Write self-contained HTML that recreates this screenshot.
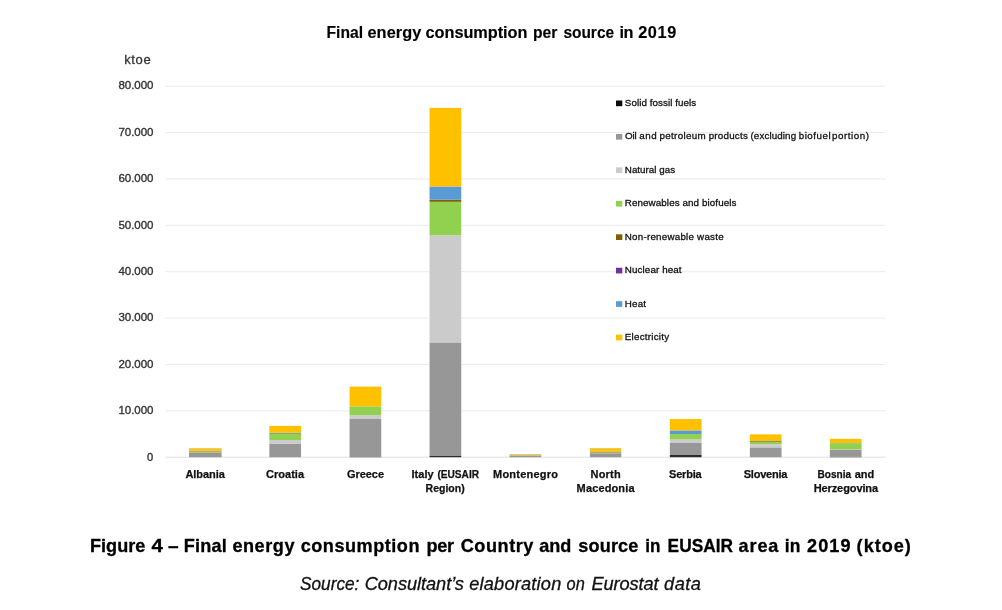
<!DOCTYPE html>
<html lang="en">
<head>
<meta charset="utf-8">
<title>Final energy consumption per source in 2019</title>
<style>
html,body{margin:0;padding:0;background:#fff;}
body{width:1002px;height:610px;overflow:hidden;font-family:"Liberation Sans", sans-serif;}
svg{display:block;font-family:"Liberation Sans", sans-serif;will-change:transform;}
</style>
</head>
<body>
<svg width="1002" height="610" viewBox="0 0 1002 610" role="img" aria-label="Stacked bar chart: final energy consumption per source in 2019 (ktoe)">
<rect x="0" y="0" width="1002" height="610" fill="#ffffff"/>
<g id="gridlines" stroke="#eaeaea" stroke-width="1">
<line x1="165.5" y1="86.20" x2="885.4" y2="86.20"/>
<line x1="165.5" y1="132.57" x2="885.4" y2="132.57"/>
<line x1="165.5" y1="178.95" x2="885.4" y2="178.95"/>
<line x1="165.5" y1="225.32" x2="885.4" y2="225.32"/>
<line x1="165.5" y1="271.70" x2="885.4" y2="271.70"/>
<line x1="165.5" y1="318.07" x2="885.4" y2="318.07"/>
<line x1="165.5" y1="364.45" x2="885.4" y2="364.45"/>
<line x1="165.5" y1="410.82" x2="885.4" y2="410.82"/>
<line x1="165.5" y1="457.20" x2="885.4" y2="457.20" stroke="#dedede"/>
</g>
<g id="bars">
<g class="bar" aria-label="Albania">
<rect x="189.00" y="452.80" width="32.6" height="4.40" fill="#979797"/>
<rect x="189.00" y="450.90" width="32.6" height="1.90" fill="#aeb56a"/>
<rect x="189.00" y="448.20" width="32.6" height="2.70" fill="#f3c325"/>
</g>
<g class="bar" aria-label="Croatia">
<rect x="269.35" y="443.90" width="31.7" height="13.30" fill="#979797"/>
<rect x="269.35" y="440.00" width="31.7" height="3.90" fill="#cbcbcb"/>
<rect x="269.35" y="433.50" width="31.7" height="6.50" fill="#92d050"/>
<rect x="269.35" y="433.00" width="31.7" height="0.50" fill="#7f6000"/>
<rect x="269.35" y="432.50" width="31.7" height="0.50" fill="#5b9bd5"/>
<rect x="269.35" y="425.90" width="31.7" height="6.60" fill="#ffc000"/>
</g>
<g class="bar" aria-label="Greece">
<rect x="349.55" y="457.00" width="31.7" height="0.20" fill="#2b2b2b"/>
<rect x="349.55" y="419.00" width="31.7" height="38.00" fill="#979797"/>
<rect x="349.55" y="415.10" width="31.7" height="3.90" fill="#cbcbcb"/>
<rect x="349.55" y="406.30" width="31.7" height="8.80" fill="#92d050"/>
<rect x="349.55" y="386.60" width="31.7" height="19.70" fill="#ffc000"/>
</g>
<g class="bar" aria-label="Italy">
<rect x="429.55" y="455.50" width="31.7" height="1.70" fill="#2b2b2b"/>
<rect x="429.55" y="342.40" width="31.7" height="113.10" fill="#979797"/>
<rect x="429.55" y="235.20" width="31.7" height="107.20" fill="#cbcbcb"/>
<rect x="429.55" y="201.80" width="31.7" height="33.40" fill="#92d050"/>
<rect x="429.55" y="199.70" width="31.7" height="2.10" fill="#7f6000"/>
<rect x="429.55" y="186.50" width="31.7" height="13.20" fill="#5b9bd5"/>
<rect x="429.55" y="107.90" width="31.7" height="78.60" fill="#ffc000"/>
</g>
<g class="bar" aria-label="Montenegro">
<rect x="509.55" y="455.70" width="31.7" height="1.50" fill="#979797"/>
<rect x="509.55" y="455.00" width="31.7" height="0.70" fill="#b9b27a"/>
<rect x="509.55" y="454.10" width="31.7" height="0.90" fill="#edc646"/>
</g>
<g class="bar" aria-label="North Macedonia">
<rect x="589.90" y="453.30" width="31.4" height="3.90" fill="#979797"/>
<rect x="589.90" y="452.00" width="31.4" height="1.30" fill="#aaad6e"/>
<rect x="589.90" y="448.10" width="31.4" height="3.90" fill="#f3c325"/>
</g>
<g class="bar" aria-label="Serbia">
<rect x="669.85" y="455.00" width="31.7" height="2.20" fill="#2b2b2b"/>
<rect x="669.85" y="443.00" width="31.7" height="12.00" fill="#979797"/>
<rect x="669.85" y="439.10" width="31.7" height="3.90" fill="#cbcbcb"/>
<rect x="669.85" y="434.00" width="31.7" height="5.10" fill="#92d050"/>
<rect x="669.85" y="430.40" width="31.7" height="3.60" fill="#5b9bd5"/>
<rect x="669.85" y="419.00" width="31.7" height="11.40" fill="#ffc000"/>
</g>
<g class="bar" aria-label="Slovenia">
<rect x="749.85" y="447.40" width="31.7" height="9.80" fill="#979797"/>
<rect x="749.85" y="444.20" width="31.7" height="3.20" fill="#cbcbcb"/>
<rect x="749.85" y="442.10" width="31.7" height="2.10" fill="#92d050"/>
<rect x="749.85" y="441.30" width="31.7" height="0.80" fill="#7f6000"/>
<rect x="749.85" y="441.00" width="31.7" height="0.30" fill="#5b9bd5"/>
<rect x="749.85" y="434.40" width="31.7" height="6.60" fill="#ffc000"/>
</g>
<g class="bar" aria-label="Bosnia and Herzegovina">
<rect x="829.85" y="456.60" width="31.7" height="0.60" fill="#2b2b2b"/>
<rect x="829.85" y="449.60" width="31.7" height="7.00" fill="#979797"/>
<rect x="829.85" y="449.30" width="31.7" height="0.30" fill="#cbcbcb"/>
<rect x="829.85" y="443.30" width="31.7" height="6.00" fill="#92d050"/>
<rect x="829.85" y="443.00" width="31.7" height="0.30" fill="#5b9bd5"/>
<rect x="829.85" y="438.80" width="31.7" height="4.20" fill="#ffc000"/>
</g>
</g>
<g id="legend-markers">
<rect x="616" y="100.50" width="6.3" height="5.7" fill="#0d0d0d"/>
<rect x="616" y="133.95" width="6.3" height="5.7" fill="#979797"/>
<rect x="616" y="167.40" width="6.3" height="5.7" fill="#cbcbcb"/>
<rect x="616" y="200.85" width="6.3" height="5.7" fill="#92d050"/>
<rect x="616" y="234.30" width="6.3" height="5.7" fill="#7f6000"/>
<rect x="616" y="267.75" width="6.3" height="5.7" fill="#7030a0"/>
<rect x="616" y="301.20" width="6.3" height="5.7" fill="#5b9bd5"/>
<rect x="616" y="334.65" width="6.3" height="5.7" fill="#ffc000"/>
</g>
<g id="chart-title">
<text y="38.2" font-size="16.3" font-weight="bold" font-style="normal" fill="#000" stroke="#000" stroke-width="0.15"><tspan x="326.5" textLength="36.5" lengthAdjust="spacingAndGlyphs">Final</tspan> <tspan x="367.4" textLength="54.0" lengthAdjust="spacing">energy</tspan> <tspan x="425.5" textLength="102.0" lengthAdjust="spacing">consumption</tspan> <tspan x="532.9" textLength="24.4" lengthAdjust="spacingAndGlyphs">per</tspan> <tspan x="563.4" textLength="50.7" lengthAdjust="spacingAndGlyphs">source</tspan> <tspan x="619.4" textLength="14.1" lengthAdjust="spacing">in</tspan> <tspan x="638.2" textLength="38.0" lengthAdjust="spacing">2019</tspan></text>
</g>
<g id="y-axis">
<text y="63.8" font-size="13" font-weight="normal" font-style="normal" fill="#333" stroke="#333" stroke-width="0.3"><tspan x="124.2" textLength="26.5" lengthAdjust="spacing">ktoe</tspan></text>
<text y="460.7" font-size="11.5" font-weight="normal" font-style="normal" fill="#333" stroke="#333" stroke-width="0.35"><tspan x="147.0" textLength="6.2" lengthAdjust="spacingAndGlyphs">0</tspan></text>
<text y="414.0" font-size="11.5" font-weight="normal" font-style="normal" fill="#333" stroke="#333" stroke-width="0.35"><tspan x="118.4" textLength="35.1" lengthAdjust="spacing">10.000</tspan></text>
<text y="367.6" font-size="11.5" font-weight="normal" font-style="normal" fill="#333" stroke="#333" stroke-width="0.35"><tspan x="118.4" textLength="35.1" lengthAdjust="spacing">20.000</tspan></text>
<text y="321.3" font-size="11.5" font-weight="normal" font-style="normal" fill="#333" stroke="#333" stroke-width="0.35"><tspan x="118.4" textLength="35.1" lengthAdjust="spacing">30.000</tspan></text>
<text y="274.9" font-size="11.5" font-weight="normal" font-style="normal" fill="#333" stroke="#333" stroke-width="0.35"><tspan x="118.4" textLength="35.1" lengthAdjust="spacing">40.000</tspan></text>
<text y="228.5" font-size="11.5" font-weight="normal" font-style="normal" fill="#333" stroke="#333" stroke-width="0.35"><tspan x="118.4" textLength="35.1" lengthAdjust="spacing">50.000</tspan></text>
<text y="182.1" font-size="11.5" font-weight="normal" font-style="normal" fill="#333" stroke="#333" stroke-width="0.35"><tspan x="118.4" textLength="35.1" lengthAdjust="spacing">60.000</tspan></text>
<text y="135.8" font-size="11.5" font-weight="normal" font-style="normal" fill="#333" stroke="#333" stroke-width="0.35"><tspan x="118.4" textLength="35.1" lengthAdjust="spacing">70.000</tspan></text>
<text y="89.4" font-size="11.5" font-weight="normal" font-style="normal" fill="#333" stroke="#333" stroke-width="0.35"><tspan x="118.4" textLength="35.1" lengthAdjust="spacing">80.000</tspan></text>
</g>
<g id="x-axis">
<text y="477.6" font-size="11" font-weight="bold" font-style="normal" fill="#111" stroke="#111" stroke-width="0.25"><tspan x="185.4" textLength="39.5" lengthAdjust="spacing">Albania</tspan></text>
<text y="477.6" font-size="11" font-weight="bold" font-style="normal" fill="#111" stroke="#111" stroke-width="0.25"><tspan x="266.0" textLength="38.0" lengthAdjust="spacing">Croatia</tspan></text>
<text y="477.6" font-size="11" font-weight="bold" font-style="normal" fill="#111" stroke="#111" stroke-width="0.25"><tspan x="347.0" textLength="37.0" lengthAdjust="spacing">Greece</tspan></text>
<text y="477.6" font-size="11" font-weight="bold" font-style="normal" fill="#111" stroke="#111" stroke-width="0.25"><tspan x="411.5" textLength="22.2" lengthAdjust="spacing">Italy</tspan> <tspan x="437.4" textLength="41.7" lengthAdjust="spacingAndGlyphs">(EUSAIR</tspan></text>
<text y="491.5" font-size="11" font-weight="bold" font-style="normal" fill="#111" stroke="#111" stroke-width="0.25"><tspan x="425.6" textLength="39.1" lengthAdjust="spacingAndGlyphs">Region)</tspan></text>
<text y="477.6" font-size="11" font-weight="bold" font-style="normal" fill="#111" stroke="#111" stroke-width="0.25"><tspan x="493.0" textLength="65.0" lengthAdjust="spacing">Montenegro</tspan></text>
<text y="477.6" font-size="11" font-weight="bold" font-style="normal" fill="#111" stroke="#111" stroke-width="0.25"><tspan x="590.5" textLength="30.2" lengthAdjust="spacing">North</tspan></text>
<text y="491.5" font-size="11" font-weight="bold" font-style="normal" fill="#111" stroke="#111" stroke-width="0.25"><tspan x="576.6" textLength="57.9" lengthAdjust="spacing">Macedonia</tspan></text>
<text y="477.6" font-size="11" font-weight="bold" font-style="normal" fill="#111" stroke="#111" stroke-width="0.25"><tspan x="669.1" textLength="32.5" lengthAdjust="spacing">Serbia</tspan></text>
<text y="477.6" font-size="11" font-weight="bold" font-style="normal" fill="#111" stroke="#111" stroke-width="0.25"><tspan x="743.7" textLength="43.7" lengthAdjust="spacing">Slovenia</tspan></text>
<text y="477.6" font-size="11" font-weight="bold" font-style="normal" fill="#111" stroke="#111" stroke-width="0.25"><tspan x="817.5" textLength="33.7" lengthAdjust="spacingAndGlyphs">Bosnia</tspan> <tspan x="854.8" textLength="19.4" lengthAdjust="spacing">and</tspan></text>
<text y="491.5" font-size="11" font-weight="bold" font-style="normal" fill="#111" stroke="#111" stroke-width="0.25"><tspan x="813.7" textLength="64.4" lengthAdjust="spacing">Herzegovina</tspan></text>
</g>
<g id="legend">
<text y="105.8" font-size="9.8" font-weight="normal" font-style="normal" fill="#111" stroke="#111" stroke-width="0.3"><tspan x="624.8" textLength="71.4" lengthAdjust="spacing">Solid fossil fuels</tspan></text>
<text y="139.2" font-size="9.8" font-weight="normal" font-style="normal" fill="#111" stroke="#111" stroke-width="0.3"><tspan x="624.9" textLength="11.7" lengthAdjust="spacing">Oil</tspan> <tspan x="639.2" textLength="17.4" lengthAdjust="spacing">and</tspan> <tspan x="659.5" textLength="46.1" lengthAdjust="spacing">petroleum</tspan> <tspan x="708.7" textLength="39.1" lengthAdjust="spacing">products</tspan> <tspan x="750.5" textLength="45.6" lengthAdjust="spacing">(excluding</tspan> <tspan x="798.7" textLength="31.9" lengthAdjust="spacing">biofuel</tspan> <tspan x="831.9" textLength="37.1" lengthAdjust="spacing">portion)</tspan></text>
<text y="172.7" font-size="9.8" font-weight="normal" font-style="normal" fill="#111" stroke="#111" stroke-width="0.3"><tspan x="624.8" textLength="50.3" lengthAdjust="spacing">Natural gas</tspan></text>
<text y="206.2" font-size="9.8" font-weight="normal" font-style="normal" fill="#111" stroke="#111" stroke-width="0.3"><tspan x="624.8" textLength="111.6" lengthAdjust="spacing">Renewables and biofuels</tspan></text>
<text y="239.6" font-size="9.8" font-weight="normal" font-style="normal" fill="#111" stroke="#111" stroke-width="0.3"><tspan x="624.8" textLength="98.8" lengthAdjust="spacing">Non-renewable waste</tspan></text>
<text y="273.1" font-size="9.8" font-weight="normal" font-style="normal" fill="#111" stroke="#111" stroke-width="0.3"><tspan x="624.8" textLength="56.8" lengthAdjust="spacing">Nuclear heat</tspan></text>
<text y="306.5" font-size="9.8" font-weight="normal" font-style="normal" fill="#111" stroke="#111" stroke-width="0.3"><tspan x="624.8" textLength="21.2" lengthAdjust="spacing">Heat</tspan></text>
<text y="340.0" font-size="9.8" font-weight="normal" font-style="normal" fill="#111" stroke="#111" stroke-width="0.3"><tspan x="624.8" textLength="44.3" lengthAdjust="spacing">Electricity</tspan></text>
</g>
<g id="caption">
<text y="551.8" font-size="18.1" font-weight="bold" font-style="normal" fill="#000" stroke="#000" stroke-width="0.3"><tspan x="90.0" textLength="55.4" lengthAdjust="spacing">Figure</tspan> <tspan x="151.5" textLength="11.4" lengthAdjust="spacingAndGlyphs">4</tspan> <tspan x="168.1" textLength="10.6" lengthAdjust="spacingAndGlyphs">–</tspan> <tspan x="183.7" textLength="43.2" lengthAdjust="spacing">Final</tspan> <tspan x="232.4" textLength="62.1" lengthAdjust="spacing">energy</tspan> <tspan x="300.7" textLength="118.8" lengthAdjust="spacing">consumption</tspan> <tspan x="426.4" textLength="27.7" lengthAdjust="spacing">per</tspan> <tspan x="460.7" textLength="72.7" lengthAdjust="spacing">Country</tspan> <tspan x="539.2" textLength="32.1" lengthAdjust="spacing">and</tspan> <tspan x="578.2" textLength="60.2" lengthAdjust="spacing">source</tspan> <tspan x="645.3" textLength="15.2" lengthAdjust="spacingAndGlyphs">in</tspan> <tspan x="667.6" textLength="65.4" lengthAdjust="spacingAndGlyphs">EUSAIR</tspan> <tspan x="738.6" textLength="39.8" lengthAdjust="spacing">area</tspan> <tspan x="784.8" textLength="15.5" lengthAdjust="spacingAndGlyphs">in</tspan> <tspan x="807.1" textLength="43.4" lengthAdjust="spacing">2019</tspan> <tspan x="856.6" textLength="54.3" lengthAdjust="spacing">(ktoe)</tspan></text>
<text y="589.8" font-size="18.2" font-weight="normal" font-style="italic" fill="#111" stroke="#111" stroke-width="0.3"><tspan x="300.0" textLength="59.4" lengthAdjust="spacingAndGlyphs">Source:</tspan> <tspan x="364.7" textLength="99.2" lengthAdjust="spacing">Consultant’s</tspan> <tspan x="469.2" textLength="92.1" lengthAdjust="spacing">elaboration</tspan> <tspan x="566.6" textLength="18.2" lengthAdjust="spacingAndGlyphs">on</tspan> <tspan x="591.6" textLength="66.9" lengthAdjust="spacing">Eurostat</tspan> <tspan x="664.1" textLength="36.7" lengthAdjust="spacing">data</tspan></text>
</g>
</svg>
</body>
</html>
